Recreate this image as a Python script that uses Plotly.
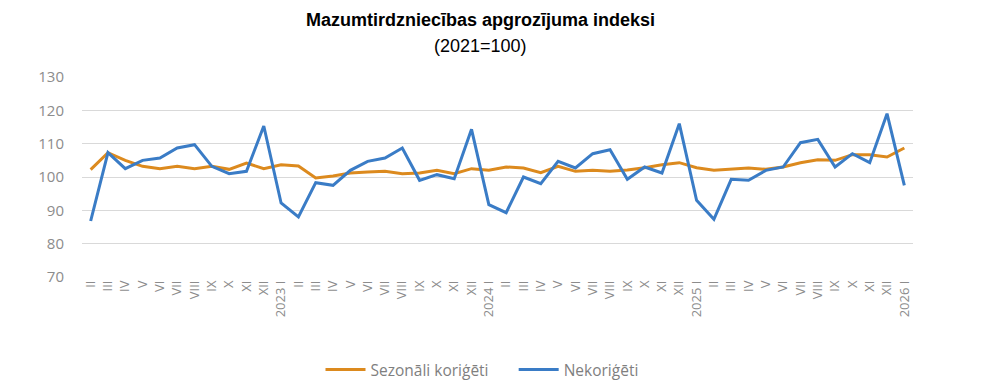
import plotly.graph_objects as go

months = ["II", "III", "IV", "V", "VI", "VII", "VIII", "IX", "X", "XI", "XII",
          "2023 I", "II", "III", "IV", "V", "VI", "VII", "VIII", "IX", "X", "XI", "XII",
          "2024 I", "II", "III", "IV", "V", "VI", "VII", "VIII", "IX", "X", "XI", "XII",
          "2025 I", "II", "III", "IV", "V", "VI", "VII", "VIII", "IX", "X", "XI", "XII",
          "2026 I"]

seasonal = [102.2, 107.3, 105.0, 103.2, 102.5, 103.2, 102.5, 103.2, 102.3, 104.2, 102.5,
            103.7, 103.3, 99.7, 100.3, 101.2, 101.5, 101.7, 101.0, 101.2, 102.0, 101.0,
            102.5, 102.0, 103.0, 102.7, 101.3, 103.2, 101.7, 102.0, 101.7, 102.1,
            102.8, 103.7, 104.3, 102.8, 102.0, 102.3, 102.7, 102.3, 103.0, 104.3, 105.2, 105.0,
            106.7, 106.7, 106.0, 108.7]

unadjusted = [86.8, 107.3, 102.5, 105.0, 105.7, 108.7, 109.7, 103.2, 101.0, 101.7, 115.3,
              92.2, 88.0, 98.3, 97.5, 102.0, 104.7, 105.7, 108.7, 99.0, 100.7, 99.5, 114.3,
              91.7, 89.3, 100.0, 98.0, 104.7, 102.7, 107.0, 108.2, 99.3, 103.0, 101.2, 116.0,
              93.0, 87.3, 99.3, 99.0, 102.0, 103.0, 110.3, 111.3, 103.0, 107.0, 104.3, 119.0,
              97.5]

y_ticks = [70, 80, 90, 100, 110, 120, 130]

x = list(range(len(months)))

# page body has an 8px margin, so the figure is laid out 8px smaller
OFF = 8
W, H = 1000 - OFF, 390 - OFF
L, T = 82 - OFF, 77 - OFF
R = W - (913 - OFF)
B = H - (277 - OFF)
pw = W - L - R
ph = H - T - B


def px_to_paper(px, py):
    return (px - OFF - L) / pw, (H - B - (py - OFF)) / ph


fig = go.Figure()
fig.add_trace(go.Scatter(x=x, y=seasonal, mode="lines",
                         name="Sezonāli koriģēti" + "\u00a0" * 5,
                         line=dict(color="#DC8A1E", width=3)))
fig.add_trace(go.Scatter(x=x, y=unadjusted, mode="lines", name="Nekoriģēti",
                         line=dict(color="#3A7CC6", width=3)))

tx, ty = px_to_paper(480, 20)
sx, sy = px_to_paper(480, 46)
lx, ly = px_to_paper(482, 370)

fig.update_layout(
    width=W, height=H,
    margin=dict(l=L, r=R, t=T, b=B, autoexpand=False),
    paper_bgcolor="white", plot_bgcolor="white",
    showlegend=True,
    legend=dict(orientation="h", x=lx, xanchor="center", y=ly, yanchor="middle",
                font=dict(family="Open Sans", size=15.5, color="#7f7f7f"),
                itemwidth=40),
    annotations=[
        dict(text="<b>Mazumtirdzniecības apgrozījuma indeksi</b>", x=tx, y=ty,
             xref="paper", yref="paper", showarrow=False, xanchor="center", yanchor="middle",
             font=dict(family="Liberation Sans", size=18, color="black")),
        dict(text="(2021=100)", x=sx, y=sy, xref="paper", yref="paper",
             showarrow=False, xanchor="center", yanchor="middle",
             font=dict(family="Liberation Sans", size=18, color="black")),
    ],
)

fig.update_xaxes(range=[-0.5, len(months) - 0.5], tickmode="array", tickvals=x,
                 ticktext=months, tickangle=-90, showgrid=False, zeroline=False,
                 showline=False, ticks="", automargin=False,
                 tickfont=dict(family="Open Sans", size=13, color="#8c8c8c"))
fig.update_yaxes(range=[70, 130], tickmode="array", tickvals=y_ticks,
                 showgrid=True, gridcolor="#d9d9d9", gridwidth=1, zeroline=False,
                 showline=False, ticks="", ticklabelstandoff=17, automargin=False,
                 tickfont=dict(family="Open Sans", size=15, color="#8c8c8c"))

fig.write_html("out.html")
